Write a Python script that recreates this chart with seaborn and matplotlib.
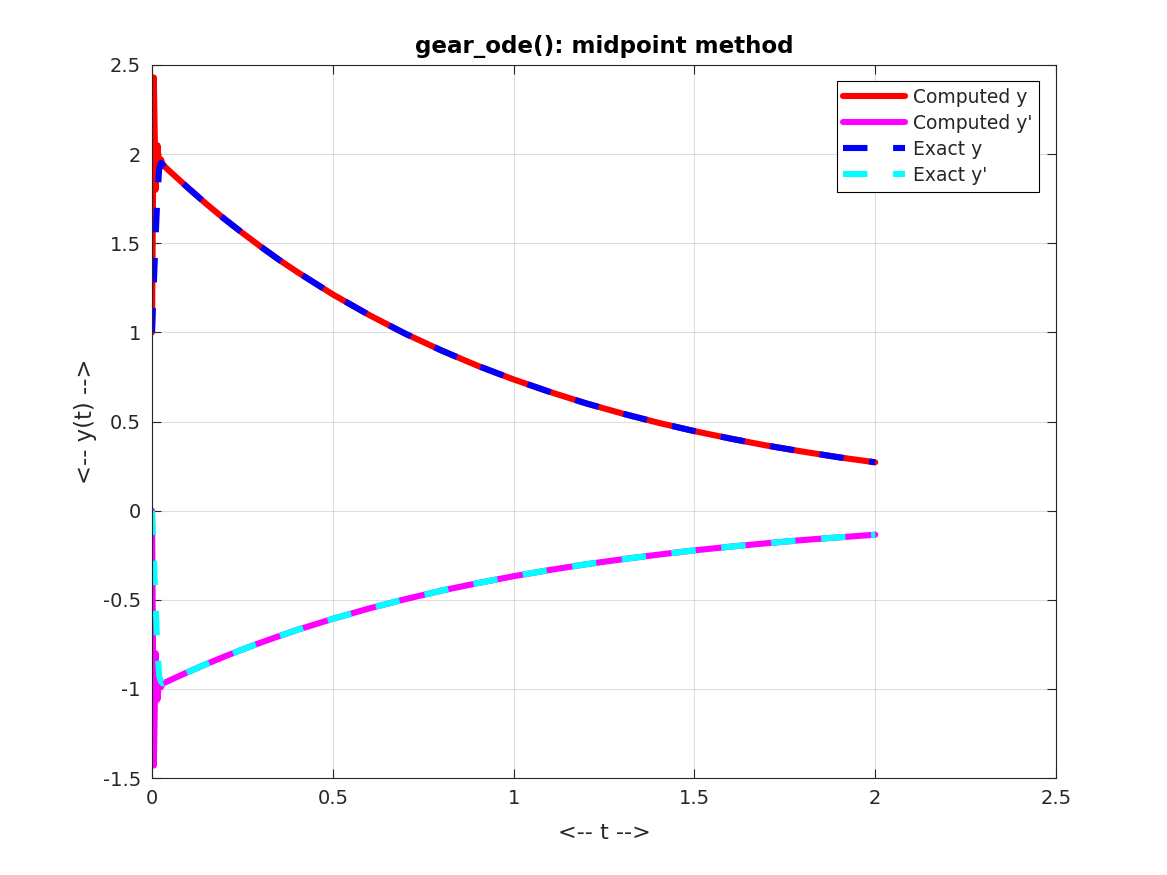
import matplotlib
matplotlib.use("Agg")
import matplotlib.pyplot as plt
import seaborn as sns
import pandas as pd

# ---- data ----
t_comp = [0.0, 0.005, 0.01, 0.015, 0.02, 0.025, 0.03, 0.05, 0.1, 0.15, 0.2, 0.25, 0.3, 0.35,
          0.4, 0.5, 0.6, 0.7, 0.8, 0.9, 1.0, 1.1, 1.2, 1.3, 1.4, 1.5, 1.6, 1.7, 1.8, 1.9, 2.0]
y_comp = [1.00, 2.43, 1.80, 2.05, 1.92, 1.97, 1.94, 1.902, 1.810, 1.721, 1.637, 1.558, 1.482, 1.409,
          1.341, 1.213, 1.098, 0.993, 0.899, 0.813, 0.736, 0.666, 0.602, 0.545, 0.493, 0.446,
          0.404, 0.365, 0.331, 0.299, 0.271]
yp_comp = [0.00, -1.43, -0.80, -1.06, -0.94, -0.99, -0.97, -0.951, -0.905, -0.861, -0.819, -0.779,
           -0.741, -0.705, -0.670, -0.607, -0.549, -0.497, -0.449, -0.407, -0.368, -0.333, -0.301,
           -0.273, -0.247, -0.223, -0.202, -0.183, -0.165, -0.150, -0.135]

t_exact = [0.0, 0.005, 0.01, 0.015, 0.02, 0.025, 0.03, 0.05, 0.1, 0.15, 0.2, 0.25, 0.3, 0.35,
           0.4, 0.5, 0.6, 0.7, 0.8, 0.9, 1.0, 1.1, 1.2, 1.3, 1.4, 1.5, 1.6, 1.7, 1.8, 1.9, 2.0]
y_exact = [1.00, 1.27, 1.53, 1.77, 1.92, 1.95, 1.94, 1.902, 1.810, 1.721, 1.637, 1.558, 1.482, 1.409,
           1.341, 1.213, 1.098, 0.993, 0.899, 0.813, 0.736, 0.666, 0.602, 0.545, 0.493, 0.446,
           0.404, 0.365, 0.331, 0.299, 0.271]
yp_exact = [0.00, -0.27, -0.53, -0.78, -0.93, -0.96, -0.97, -0.951, -0.905, -0.861, -0.819, -0.779,
            -0.741, -0.705, -0.670, -0.607, -0.549, -0.497, -0.449, -0.407, -0.368, -0.333, -0.301,
            -0.273, -0.247, -0.223, -0.202, -0.183, -0.165, -0.150, -0.135]

series_labels = ["Computed y", "Computed y'", "Exact y", "Exact y'"]
series_colors = ["#ff0000", "#ff00ff", "#0000ff", "#00ffff"]
x_ticks = [0, 0.5, 1, 1.5, 2, 2.5]
x_tick_labels = ["0", "0.5", "1", "1.5", "2", "2.5"]
y_ticks = [-1.5, -1, -0.5, 0, 0.5, 1, 1.5, 2, 2.5]
y_tick_labels = ["-1.5", "-1", "-0.5", "0", "0.5", "1", "1.5", "2", "2.5"]

sns.set_theme(style="white")
plt.rcParams["font.family"] = ["DejaVu Sans"]
plt.rcParams["axes.unicode_minus"] = False

fig = plt.figure(figsize=(11.67, 8.75), dpi=100)
ax = fig.add_axes([152 / 1167, 1 - 778 / 875, (1056 - 152) / 1167, (778 - 65) / 875])

df_c = pd.DataFrame({"t": t_comp, "y": y_comp, "yp": yp_comp})
df_e = pd.DataFrame({"t": t_exact, "y": y_exact, "yp": yp_exact})

lw = 4.4
dash = (4.0, 4.2)
sns.lineplot(data=df_c, x="t", y="y", color=series_colors[0], lw=lw, label=series_labels[0],
             ax=ax, sort=False, estimator=None)
sns.lineplot(data=df_c, x="t", y="yp", color=series_colors[1], lw=lw, label=series_labels[1],
             ax=ax, sort=False, estimator=None)
sns.lineplot(data=df_e, x="t", y="y", color=series_colors[2], lw=lw, label=series_labels[2],
             ax=ax, sort=False, estimator=None)
sns.lineplot(data=df_e, x="t", y="yp", color=series_colors[3], lw=lw, label=series_labels[3],
             ax=ax, sort=False, estimator=None)
lines = ax.get_lines()
for ln in lines[2:4]:
    ln.set_dashes(dash)
    ln.set_dash_capstyle("butt")
for ln in lines:
    ln.set_solid_capstyle("round")
    ln.set_solid_joinstyle("round")

ax.set_xlim(0, 2.5)
ax.set_ylim(-1.5, 2.5)
ax.set_xticks(x_ticks)
ax.set_xticklabels(x_tick_labels)
ax.set_yticks(y_ticks)
ax.set_yticklabels(y_tick_labels)

ax.grid(True, color="#000000", alpha=0.13, lw=0.8)
ax.set_axisbelow(True)
for s in ax.spines.values():
    s.set_visible(True)
    s.set_color("#262626")
    s.set_linewidth(0.8)
ax.tick_params(direction="in", length=6.5, width=0.8, colors="#262626", labelsize=14,
               top=True, right=True, bottom=True, left=True, pad=8)
ax.tick_params(axis="both", labelcolor="#262626")

ax.set_title("gear_ode(): midpoint method", fontsize=16.6, fontweight="bold", color="black", pad=9)
ax.set_xlabel("<-- t -->", fontsize=16, color="#262626", labelpad=11)
ax.set_ylabel("<-- y(t) -->", fontsize=16.3, color="#262626", labelpad=4)

leg = ax.legend(loc="upper right", bbox_to_anchor=((1039 - 152) / 904, (778 - 81) / 713),
                borderaxespad=0, fontsize=13.5, frameon=True, fancybox=False, shadow=False,
                handlelength=3.3, handletextpad=0.42, labelspacing=0.38, borderpad=0.35)
leg.get_frame().set_edgecolor("black")
leg.get_frame().set_linewidth(0.8)
leg.get_frame().set_alpha(1)
for h in leg.get_lines():
    h.set_linewidth(lw)

fig.savefig("out.png", dpi=100, facecolor="white")
